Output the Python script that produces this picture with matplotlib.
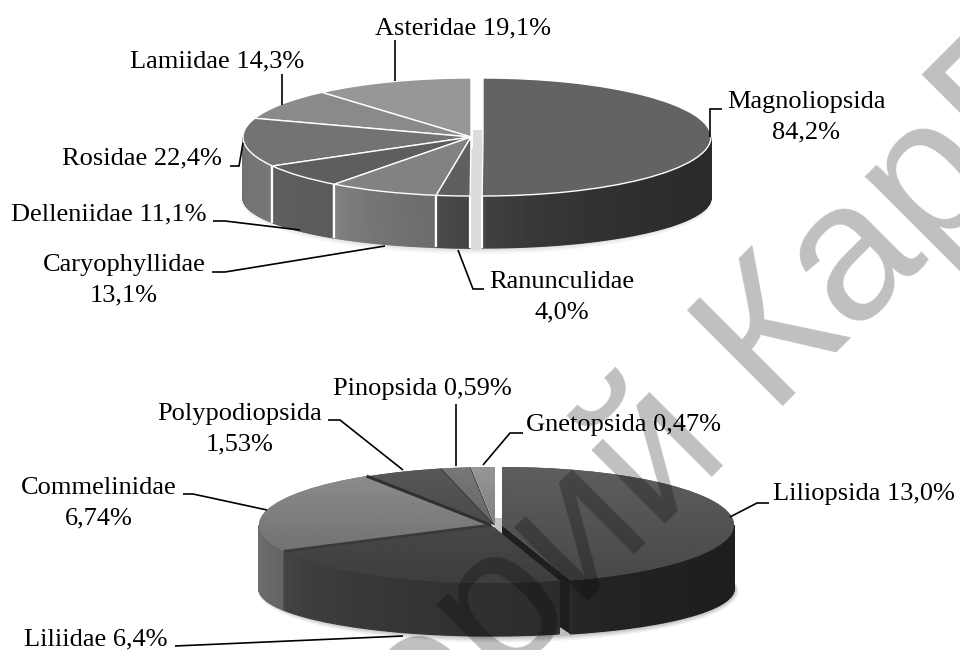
import numpy as np
import matplotlib
matplotlib.use("Agg")
import matplotlib.pyplot as plt
from matplotlib.patches import Polygon, Ellipse
from matplotlib.textpath import TextPath
from matplotlib.font_manager import FontProperties

upper_names = ["Magnoliopsida", "Ranunculidae", "Caryophyllidae", "Delleniidae", "Rosidae", "Lamiidae", "Asteridae"]
upper_values = [84.2, 4.0, 13.1, 11.1, 22.4, 14.3, 19.1]
lower_names = ["Liliopsida", "Liliidae", "Commelinidae", "Polypodiopsida", "Pinopsida", "Gnetopsida"]
lower_values = [13.0, 6.4, 6.74, 1.53, 0.59, 0.47]
watermark = "Репозиторий КарГУ"

W, H = 960, 650
plt.rcParams["font.family"] = ["Liberation Serif", "DejaVu Serif"]
fig = plt.figure(figsize=(W / 100, H / 100), dpi=100, facecolor="white")


def gr(v):
    return (v / 255, v / 255, v / 255)


def draw_pie(values, geom, centers, tops, walls, edge, shadow, strip, rays):
    cx0, cy, a, b, cy2, b2, base = geom
    ax = fig.add_axes([0, 0, 1, 1], zorder=base)
    ax.patch.set_alpha(0)
    wedges, _ = ax.pie(values, startangle=90, counterclock=False, radius=1,
                       wedgeprops=dict(linewidth=1.0 if edge else 0.0, edgecolor=edge or "none"))
    d = (cy2 - cy) / b
    k = b2 / b
    # soft shadow under the pie
    for grow, alpha in ((4, 0.10), (3, 0.14), (2, 0.18), (1, 0.22)):
        ax.add_patch(Ellipse(((centers[0] + centers[-1]) / 2 / a - cx0 / a, -d - grow * 0.6 / b),
                             2 * (a + grow + 4) / a, 2 * (b2 + grow) / b,
                             fc="#808080", ec="none", alpha=alpha * shadow, zorder=1))
    x0, x1, y0, y1, col = strip
    ax.add_patch(Polygon([((x0 - cx0) / a, (cy - y0) / b), ((x1 - cx0) / a, (cy - y0) / b),
                          ((x1 - cx0) / a, (cy - y1) / b), ((x0 - cx0) / a, (cy - y1) / b)],
                         fc=col, ec="none", zorder=2))
    fr = np.array(values) / sum(values)
    cum = np.concatenate([[0], np.cumsum(fr)]) * 360
    mids = (cum[:-1] + cum[1:]) / 2
    front = -np.cos(np.radians(mids))
    order = np.argsort(np.argsort(front))
    for i, w in enumerate(wedges):
        ox = (centers[i] - cx0) / a
        z = 10 + order[i] * 6
        th1, th2 = 90 - cum[i], 90 - cum[i + 1]
        w.set_center((ox, 0))
        w.set_zorder(z + 3)
        w.set_facecolor(gr(np.mean(tops[i])))
        # cut faces that look to the viewer
        for t in (th1, th2):
            r = np.radians(t)
            if np.sin(r) < -0.02:
                ax.add_patch(Polygon([(ox, 0), (ox + np.cos(r), np.sin(r)),
                                      (ox + np.cos(r), -d + k * np.sin(r)), (ox, -d)],
                                     fc=gr(walls[i][1]), ec="none", zorder=z))
        # front wall, in thin strips that carry the gradient
        lo, hi = max(th2, -180), min(th1, 0)
        if hi > lo:
            ts = np.radians(np.linspace(lo, hi, 80))
            xs = np.cos(ts)
            for j in range(len(ts) - 1):
                u = (xs[j] - xs.min()) / max(xs.max() - xs.min(), 1e-6)
                v = walls[i][0] + (walls[i][1] - walls[i][0]) * u ** 0.5
                c = gr(v)
                ax.add_patch(Polygon([(ox + xs[j], np.sin(ts[j])), (ox + xs[j + 1], np.sin(ts[j + 1])),
                                      (ox + xs[j + 1], -d + k * np.sin(ts[j + 1])),
                                      (ox + xs[j], -d + k * np.sin(ts[j]))],
                                     fc=c, ec=c, lw=0.9, zorder=z + 1))
            if edge:
                for t in (ts[0], ts[-1]):
                    if np.sin(t) < -0.02:
                        ax.plot([ox + np.cos(t)] * 2, [np.sin(t), -d + k * np.sin(t)],
                                color=edge, lw=1.6, zorder=z + 2, solid_capstyle="butt")
        # top surface, gradient clipped to the slice
        if tops[i][0] != tops[i][1]:
            g = np.linspace(tops[i][0], tops[i][1], 128).reshape(-1, 1) / 255
            im = ax.imshow(g, extent=(-3, 3, -1, 1), cmap="gray", vmin=0, vmax=1,
                           aspect="auto", zorder=z + 4)
            im.set_clip_path(w)
    for i, side, col, lw in rays:
        r = np.radians(90 - cum[i + side])
        ox = (centers[i] - cx0) / a
        ax.plot([ox, ox + np.cos(r)], [0, np.sin(r)], color=col, lw=lw, zorder=60, solid_capstyle="butt")
    ax.set_aspect("auto")
    ax.set_xlim((0 - cx0) / a, (W - cx0) / a)
    ax.set_ylim((cy - H) / b, cy / b)
    ax.set_axis_off()
    return ax


draw_pie(upper_values, (477, 137, 228, 59, 198, 50, 1),
         [483, 471, 471, 471, 471, 471, 471],
         [(99, 99), (95, 95), (130, 130), (94, 94), (115, 115), (138, 138), (151, 151)],
         [(68, 42), (78, 68), (134, 108), (98, 90), (112, 120), (110, 110), (110, 110)],
         "white", 0.45, (473, 483, 130, 249, "#dcdcdc"), [])
draw_pie(lower_values, (491, 525, 232, 58, 589, 47, 2),
         [502, 491, 491, 494, 494, 495],
         [(94, 72), (82, 62), (142, 104), (88, 60), (120, 84), (150, 104)],
         [(40, 30), (70, 44), (112, 100), (60, 60), (70, 70), (80, 80)],
         None, 1.0, (494, 502, 518, 540, "#c4c4c4"),
         [(1, 1, "#3a3a3a", 2.0), (2, 1, "#303030", 2.2), (3, 1, "#3a3a3a", 0.7), (4, 1, "#444444", 0.7)])

ov = fig.add_axes([0, 0, 1, 1], zorder=5)
ov.patch.set_alpha(0)
ov.set_xlim(0, W)
ov.set_ylim(H, 0)
ov.set_axis_off()

# place the watermark so that the К stands where it stands in the reference
wm_px = 196
fp = FontProperties(family="Liberation Sans")
head = watermark[:watermark.index("К") + 1]
adv = TextPath((0, 0), head, size=wm_px, prop=fp).get_extents().x1 - TextPath((0, 0), "К", size=wm_px, prop=fp).get_extents().x1
kx, ky = 771, 418
ov.text(kx - adv * 0.7071, ky + adv * 0.7071, watermark, rotation=45, rotation_mode="anchor",
        ha="left", va="baseline", family="Liberation Sans", fontsize=wm_px * 0.72,
        color="black", alpha=0.25, zorder=1, clip_on=True)


def pct(v, dec):
    return f"{v:.{dec}f}".replace(".", ",") + "%"


labels = [
    (f"{upper_names[6]} {pct(upper_values[6], 1)}", 463, 28),
    (f"{upper_names[5]} {pct(upper_values[5], 1)}", 217, 61),
    (f"{upper_names[0]}\n{pct(upper_values[0], 1)}", 806, 117),
    (f"{upper_names[4]} {pct(upper_values[4], 1)}", 142, 158),
    (f"{upper_names[3]} {pct(upper_values[3], 1)}", 109, 214),
    (f"{upper_names[2]}\n{pct(upper_values[2], 1)}", 124, 280),
    (f"{upper_names[1]}\n{pct(upper_values[1], 1)}", 562, 297),
    (f"{lower_names[4]} {pct(lower_values[4], 2)}", 422, 389),
    (f"{lower_names[3]}\n{pct(lower_values[3], 2)}", 240, 429),
    (f"{lower_names[5]} {pct(lower_values[5], 2)}", 624, 425),
    (f"{lower_names[2]}\n{pct(lower_values[2], 2)}", 99, 503),
    (f"{lower_names[0]} {pct(lower_values[0], 1)}", 864, 494),
    (f"{lower_names[1]} {pct(lower_values[1], 1)}", 96, 639),
]
for s, x, y in labels:
    ov.text(x, y, s, ha="center", va="center", fontsize=19, color="black", linespacing=1.52,
            zorder=5, multialignment="center")

leaders = [
    [(710, 137), (710, 109), (722, 109)],
    [(395, 40), (395, 81)],
    [(282, 74), (282, 105)],
    [(230, 166), (239, 166), (243, 143)],
    [(213, 221), (225, 221), (300, 230)],
    [(212, 272), (225, 272), (385, 246)],
    [(458, 250), (473, 289), (484, 289)],
    [(328, 420), (340, 420), (403, 470)],
    [(456, 404), (456, 466)],
    [(523, 433), (510, 433), (483, 465)],
    [(183, 494), (193, 494), (267, 510)],
    [(769, 503), (757, 503), (730, 517)],
    [(175, 646), (403, 636)],
]
for seg in leaders:
    xs, ys = zip(*seg)
    ov.plot(xs, ys, color="black", lw=1.2, zorder=4, solid_capstyle="butt", solid_joinstyle="miter")

fig.savefig("out.png", dpi=100, facecolor="white")
